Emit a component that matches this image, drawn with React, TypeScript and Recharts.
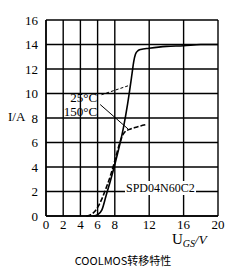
import { LineChart, Line, XAxis, YAxis, CartesianGrid, ReferenceLine, ReferenceDot } from "recharts";

// 25°C transfer curve (solid)
const vgs25 = [5.5, 6.0, 6.5, 7.0, 7.5, 8.0, 8.5, 9.0, 9.5, 10.0, 10.2, 10.4, 10.7, 11.0, 12.0, 14.0, 16.0, 18.0, 20.0];
const id25 = [0, 0.1, 0.5, 1.7, 2.9, 4.2, 5.6, 7.2, 9.2, 11.6, 12.6, 13.2, 13.5, 13.6, 13.7, 13.85, 13.9, 14.0, 14.0];

// 150°C transfer curve (dashed)
const vgs150 = [4.7, 5.0, 5.5, 6.0, 6.5, 7.0, 7.5, 8.0, 8.5, 9.0, 9.3, 9.6, 10.0, 10.5, 11.0, 11.6];
const id150 = [0, 0.05, 0.25, 0.7, 1.4, 2.3, 3.3, 4.5, 5.8, 6.7, 6.95, 7.05, 7.15, 7.25, 7.35, 7.45];

const xTicks = [0, 2, 4, 6, 8, 10, 12, 14, 16, 18, 20];
const yTicks = [0, 2, 4, 6, 8, 10, 12, 14, 16];

// leader lines from labels to curves
const leader25 = [{ x: 6.45, y: 9.9 }, { x: 9.85, y: 10.7 }];
const leader150 = [{ x: 6.3, y: 9.1 }, { x: 9.55, y: 7.1 }];
const label25 = { x: 5.95, y: 9.7, text: "25°C" };
const label150 = { x: 5.95, y: 8.55, text: "150°C" };

const s25 = vgs25.map((x, i) => ({ x, y: id25[i] }));
const s150 = vgs150.map((x, i) => ({ x, y: id150[i] }));

const font = "'Liberation Serif', serif";
const tick = { fontSize: 13, fill: "#000", fontFamily: font };

export default function App() {
  return (
    <div style={{ position: "absolute", left: 0, top: 0, width: 246, height: 271, background: "#fff" }}>
      <LineChart width={246} height={271} margin={{ top: 20, right: 28, left: 26, bottom: 35 }}>
        <CartesianGrid stroke="#000" strokeWidth={1.4} />
        <XAxis
          type="number"
          dataKey="x"
          domain={[0, 20]}
          ticks={xTicks}
          tick={tick}
          tickSize={0}
          tickMargin={4}
          height={20}
          axisLine={{ stroke: "#000", strokeWidth: 1.4 }}
          tickLine={false}
          allowDataOverflow
        />
        <YAxis
          type="number"
          dataKey="y"
          domain={[0, 16]}
          ticks={yTicks}
          tick={tick}
          tickSize={0}
          tickMargin={8}
          width={20}
          axisLine={{ stroke: "#000", strokeWidth: 1.4 }}
          tickLine={false}
        />
        <ReferenceLine segment={leader25} stroke="#000" strokeWidth={1} strokeDasharray="3 2" ifOverflow="visible" />
        <ReferenceLine segment={leader150} stroke="#000" strokeWidth={1} ifOverflow="visible" />
        <Line data={s25} dataKey="y" type="monotone" stroke="#000" strokeWidth={1.6} dot={false} isAnimationActive={false} />
        <Line data={s150} dataKey="y" type="monotone" stroke="#000" strokeWidth={1.6} strokeDasharray="5 2" dot={false} isAnimationActive={false} />
        <ReferenceDot x={label25.x} y={label25.y} r={0} ifOverflow="visible"
          label={{ value: label25.text, position: "left", offset: 0, fontSize: 13, fill: "#000", fontFamily: font }} />
        <ReferenceDot x={label150.x} y={label150.y} r={0} ifOverflow="visible"
          label={{ value: label150.text, position: "left", offset: 0, fontSize: 13, fill: "#000", fontFamily: font }} />
      </LineChart>
      <div style={{ position: "absolute", left: 8, top: 109, fontFamily: font, fontSize: 13, color: "#000" }}>I/A</div>
      <div style={{ position: "absolute", left: 125, top: 181, fontFamily: font, fontSize: 12, color: "#000", background: "#fff", padding: "0 1px", lineHeight: "14px" }}>SPD04N60C2</div>
      <div style={{ position: "absolute", left: 172, top: 233, fontFamily: font, fontSize: 15, color: "#000", lineHeight: "12px", whiteSpace: "nowrap" }}>
        U<span style={{ fontSize: 10, fontStyle: "italic", verticalAlign: -3 }}>GS</span><i style={{ fontSize: 13 }}>/V</i>
      </div>
      <div style={{ position: "absolute", left: 0, width: 246, top: 252, textAlign: "center", fontFamily: "'Noto Sans CJK SC', sans-serif", fontSize: 11, color: "#000" }}>COOLMOS转移特性</div>
    </div>
  );
}
